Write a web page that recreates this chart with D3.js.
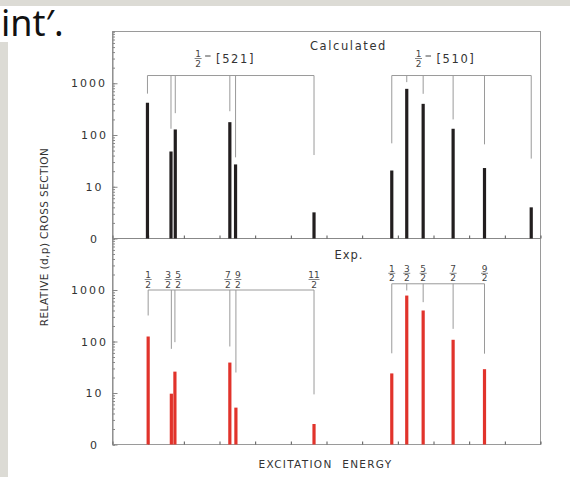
<!DOCTYPE html>
<html>
<head>
<meta charset="utf-8">
<script src="https://cdn.jsdelivr.net/npm/d3@7"></script>
<style>
  body { margin: 0; background: #fff; }
  svg { display: block; font-family: "DejaVu Sans", sans-serif; }
</style>
</head>
<body>
<svg id="chart" width="570" height="477"></svg>
<script>
// excitation energy (arbitrary units) and relative (d,p) cross sections
const calcEnergy = [0.98, 1.64, 1.76, 3.29, 3.45, 5.65, 7.83, 8.25, 8.71, 9.55, 10.43, 11.74];
const calcSigma = [420, 48, 128, 177, 27, 3.2, 20.6, 780, 400, 132, 23, 4];
const calcLeaderEnd = [630, 132, 264, 288, 37, 41, 69, 1050, 625, 200, 66, 35];
const calcGroups = [[0, 5], [6, 11]];
const calcBracket = [1410, 1410];

const expEnergy = [1.0, 1.65, 1.75, 3.29, 3.46, 5.65, 7.83, 8.25, 8.71, 9.55, 10.43];
const expSigma = [125, 9.7, 26, 39, 5.2, 2.5, 24, 780, 400, 108, 29];
const expLeaderEnd = [320, 72, 97, 80, 25, 9.4, 59, 980, 580, 176, 58];
const expGroups = [[0, 5], [6, 10]];
const expBracket = [1000, 1320];
const expSpin = ["1/2", "3/2", "5/2", "7/2", "9/2", "11/2", "1/2", "3/2", "5/2", "7/2", "9/2"];

const bandNames = ["[521]", "[510]"];
const bandSpin = ["1/2", "1/2"];
const bandPos = [2.4, 8.58];

const yTickValues = [1, 10, 100, 1000];
const yTickLabels = ["0", "10", "100", "1000"];

const svg = d3.select("#chart");
const gray = "#dcdbd5";
const lineGray = "#9a9a9a";

// slide background bits
svg.append("rect").attr("x", 0).attr("y", 0).attr("width", 570).attr("height", 6).attr("fill", gray);
svg.append("rect").attr("x", 0).attr("y", 42).attr("width", 8).attr("height", 435).attr("fill", gray);
svg.append("text")
  .attr("x", 1).attr("y", 36)
  .attr("font-family", "'Noto Sans', sans-serif")
  .attr("font-size", 36)
  .attr("fill", "#111")
  .text("int\u2032.");

const x = d3.scaleLinear().domain([0, 12]).range([112.5, 540.5]);
const yCalc = d3.scaleLog().domain([1, 1e4]).range([238.5, 31.5]);
const yExp = d3.scaleLog().domain([1, 1e4]).range([444.5, 238.5]);

// frame
svg.append("rect")
  .attr("x", 112.5).attr("y", 31.5)
  .attr("width", 428).attr("height", 413)
  .attr("fill", "none").attr("stroke", lineGray);
svg.append("line")
  .attr("x1", 112.5).attr("x2", 540.5)
  .attr("y1", 238.5).attr("y2", 238.5)
  .attr("stroke", "#888");

function fraction(g, cx, base, text) {
  const [num, den] = text.split("/");
  const f = g.append("g").attr("fill", "#444").attr("font-size", 9).attr("text-anchor", "middle");
  f.append("text").attr("x", cx).attr("y", base - 9.5).text(num);
  f.append("text").attr("x", cx).attr("y", base).text(den);
  const w = num.length > 1 ? 11 : 7;
  f.append("line")
    .attr("x1", cx - w / 2).attr("x2", cx + w / 2)
    .attr("y1", base - 8).attr("y2", base - 8)
    .attr("stroke", "#666").attr("stroke-width", 0.8);
}

function drawPanel(y, energy, sigma, leaderEnd, groups, bracket, color) {
  const base = y.range()[0];
  const g = svg.append("g");

  // energy ticks along the baseline
  g.append("g")
    .attr("transform", `translate(0,${base})`)
    .call(d3.axisTop(x).ticks(12).tickSize(3).tickFormat(""))
    .call((a) => a.select(".domain").remove())
    .selectAll("line").attr("stroke", "#555");

  // log ticks on the left axis
  const ax = g.append("g").attr("transform", "translate(112.5,0)");
  ax.call(d3.axisRight(y).tickValues(y.ticks()).tickSize(2.5).tickFormat(""))
    .call((a) => a.select(".domain").attr("stroke", "#888"));
  ax.selectAll("line").attr("stroke", "#888");
  ax.append("g")
    .call(d3.axisRight(y).tickValues(yTickValues).tickSize(5).tickFormat(""))
    .call((a) => a.select(".domain").remove())
    .selectAll("line").attr("stroke", "#888");

  g.selectAll("text.ylab")
    .data(yTickValues)
    .enter()
    .append("text")
    .attr("class", "ylab")
    .attr("x", (d) => (d >= 1000 ? 107 : 94.5))
    .attr("y", (d) => y(d) + 4)
    .attr("text-anchor", (d) => (d >= 1000 ? "end" : "middle"))
    .attr("font-size", 11)
    .attr("letter-spacing", 2)
    .attr("fill", "#333")
    .text((d, i) => yTickLabels[i]);

  // level brackets with leaders
  groups.forEach(([a, b], k) => {
    const by = y(bracket[k]);
    g.append("line")
      .attr("x1", x(energy[a])).attr("x2", x(energy[b]))
      .attr("y1", by).attr("y2", by)
      .attr("stroke", lineGray);
    d3.range(a, b + 1).forEach((i) => {
      g.append("line")
        .attr("x1", x(energy[i])).attr("x2", x(energy[i]))
        .attr("y1", by).attr("y2", y(leaderEnd[i]))
        .attr("stroke", lineGray);
    });
  });

  // bars
  g.selectAll("rect.bar")
    .data(sigma)
    .enter()
    .append("rect")
    .attr("class", "bar")
    .attr("x", (d, i) => x(energy[i]) - 1.6)
    .attr("y", (d) => y(d))
    .attr("width", 3.2)
    .attr("height", (d) => base - y(d))
    .attr("fill", color);
  return g;
}

drawPanel(yCalc, calcEnergy, calcSigma, calcLeaderEnd, calcGroups, calcBracket, "#221e1f");
const gExp = drawPanel(yExp, expEnergy, expSigma, expLeaderEnd, expGroups, expBracket, "#e1332b");

// spin labels above the experimental brackets, spread apart when crowded
const lx = expEnergy.map((e) => x(e));
for (let i = 1; i < lx.length; i++) {
  if (lx[i] - lx[i - 1] < 10) {
    const m = (lx[i] + lx[i - 1]) / 2;
    lx[i - 1] = m - 5;
    lx[i] = m + 5;
  }
}
expSpin.forEach((s, i) => {
  const k = i < 6 ? 0 : 1;
  fraction(gExp, lx[i], yExp(expBracket[k]) - 2.5, s);
});

// band labels in the calculated panel: 1/2 ^- [Nnz]
bandNames.forEach((name, i) => {
  const fx = x(bandPos[i]);
  fraction(svg, fx, 66.5, bandSpin[i]);
  svg.append("line")
    .attr("x1", fx + 7).attr("x2", fx + 12.5)
    .attr("y1", 56).attr("y2", 56)
    .attr("stroke", "#444");
  svg.append("text")
    .attr("x", fx + 18).attr("y", 63)
    .attr("font-size", 11.5)
    .attr("letter-spacing", 1.6)
    .attr("fill", "#333")
    .text(name);
});

svg.append("text")
  .attr("x", 348.5).attr("y", 50)
  .attr("text-anchor", "middle")
  .attr("font-size", 11.5)
  .attr("letter-spacing", 1.6)
  .attr("fill", "#333")
  .text("Calculated");

svg.append("text")
  .attr("x", 349).attr("y", 258.5)
  .attr("text-anchor", "middle")
  .attr("font-size", 11.5)
  .attr("letter-spacing", 1)
  .attr("fill", "#333")
  .text("Exp.");

svg.append("text")
  .attr("x", 325.5).attr("y", 468)
  .attr("text-anchor", "middle")
  .attr("font-size", 10.5)
  .attr("letter-spacing", 1.3)
  .attr("word-spacing", 5)
  .attr("fill", "#333")
  .text("EXCITATION ENERGY");

svg.append("text")
  .attr("transform", "translate(48,237) rotate(-90)")
  .attr("text-anchor", "middle")
  .attr("font-size", 10.5)
  .attr("letter-spacing", 0.4)
  .attr("fill", "#333")
  .text("RELATIVE (d,p) CROSS SECTION");
</script>
</body>
</html>
